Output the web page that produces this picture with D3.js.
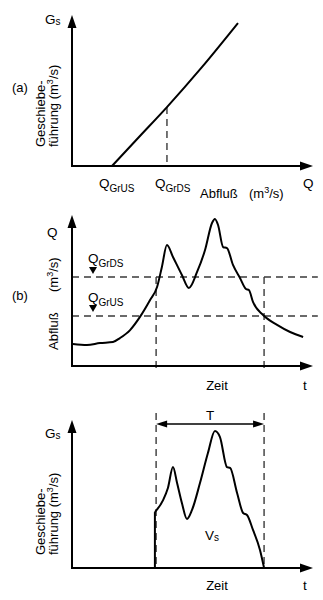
<!DOCTYPE html>
<html><head><meta charset="utf-8">
<script src="https://cdn.jsdelivr.net/npm/d3@7"></script>
<style>body{margin:0;background:#fff}svg{display:block;font-family:"Liberation Sans",Arial,sans-serif}</style>
</head><body><svg id="c" width="323" height="600"></svg>
<script>
// ---- data (normalized units 0..100 along each axis) ----
// (a) bedload transport vs discharge
const curveA_Q  = [16.6, 28, 39.4, 54, 68.9];
const curveA_Gs = [0, 19.5, 39, 65.6, 94.7];
const qGrUS_a = 16.6, qGrDS_a = 39.4, gsAtDS = 39;
// (b) hydrograph
const timeB = [0.4,6.2,11.6,17.0,19.9,24.1,28.2,32.4,35.3,37.3,39.4,41.9,45.6,48.5,51.9,55.2,58.1,59.3,60.6,62.7,64.3,66.8,69.7,72.2,73.4,75.1,79.3,85.1,90.5,95.9];
const flowB = [14.6,13.9,15.2,15.9,18.5,23.8,32.5,43.7,52.3,65.6,80.1,72.2,60.3,51.7,62.3,76.8,94.7,97.4,93.4,78.8,78.1,66.9,58.3,51.0,50.3,42.4,33.8,27.2,22.5,19.2];
const qGrDS_b = 58.9, qGrUS_b = 33.1;
const tStart = 34.9, tEnd = 79.7;
// (c) bedload hydrograph
const timeC = [34.4,37.8,39.8,41.9,43.6,45.6,47.7,49.8,53.1,56.4,59.3,61.4,64.3,65.6,68.5,71.0,72.6,75.1,78.0,79.7];
const gsC   = [37.8,45.9,54.1,68.2,57.4,43.9,33.1,39.2,57.4,77.7,92.6,88.5,68.2,67.6,50.7,37.2,35.8,25.7,12.2,0];

const svg = d3.select("#c");
const DASH = "7,5", DCOL = "#3a3a3a";

function arrowHead(g, x, y, dir){
  let p;
  if(dir==='up') p=[[x,y],[x-4.5,y+13],[x+4.5,y+13]];
  else if(dir==='right') p=[[x,y],[x-13,y-4.5],[x-13,y+4.5]];
  else p=[[x,y],[x+11,y-3.5],[x+11,y+3.5]];
  g.append("path").attr("d","M"+p.map(d=>d.join(",")).join("L")+"Z").attr("fill","#000");
}
function axes(g, x0, y0, xTip, yTip){
  g.append("line").attr("x1",x0).attr("y1",y0).attr("x2",x0).attr("y2",yTip+8).attr("stroke","#000").attr("stroke-width",2);
  g.append("line").attr("x1",x0-1).attr("y1",y0).attr("x2",xTip-8).attr("y2",y0).attr("stroke","#000").attr("stroke-width",2);
  arrowHead(g,x0,yTip,'up'); arrowHead(g,xTip,y0,'right');
}
function txt(x,y,s,size,anchor){
  return svg.append("text").attr("x",x).attr("y",y).attr("font-size",size||13).attr("text-anchor",anchor||"start").text(s);
}
function unit(t){ // appends "(m³/s)" to a text element
  t.append("tspan").text("(m");
  t.append("tspan").attr("font-size",9).attr("dy",-5).text("3");
  t.append("tspan").attr("dy",5).text("/s)");
}
function qsub(x,y,sub){
  const t = svg.append("text").attr("x",x).attr("y",y).attr("font-size",13.5);
  t.append("tspan").text("Q");
  t.append("tspan").attr("font-size",10).attr("dy",4).text(sub);
  return t;
}
function rot(x,y,pre,withUnit){
  const t = svg.append("text").attr("transform",`translate(${x},${y}) rotate(-90)`).attr("font-size",13);
  if(pre) t.append("tspan").text(pre);
  if(withUnit) unit(t);
  return t;
}
function gs(x,y,main,sub){
  const t = svg.append("text").attr("x",x).attr("y",y).attr("font-size",13.5);
  t.append("tspan").text(main);
  t.append("tspan").attr("font-size",10).attr("dy",1).text(sub);
}

// ===== Panel (a) =====
const xa = d3.scaleLinear().domain([0,100]).range([72,313]);
const ya = d3.scaleLinear().domain([0,100]).range([166,15]);
const ga = svg.append("g");
ga.append("line").attr("x1",xa(qGrDS_a)).attr("x2",xa(qGrDS_a)).attr("y1",ya(gsAtDS)).attr("y2",ya(0))
  .attr("stroke",DCOL).attr("stroke-width",1.4).attr("stroke-dasharray",DASH);
ga.append("path").datum(curveA_Q.map((q,i)=>[q,curveA_Gs[i]]))
  .attr("d",d3.line().x(d=>xa(d[0])).y(d=>ya(d[1])).curve(d3.curveMonotoneX))
  .attr("fill","none").attr("stroke","#000").attr("stroke-width",2);
axes(ga,72,166,313,15);
gs(45,24,"G","s");
txt(12,92,"(a)",13);
rot(45,147,"Geschiebe-",false);
rot(58,147,"führung ",true);
qsub(xa(qGrUS_a)-13,188,"GrUS");
qsub(xa(qGrDS_a)-12,188,"GrDS");
txt(200,198,"Abfluß",13);
unit(txt(249,198,"",13));
txt(303,188,"Q",13.5);

// ===== Panel (b) =====
const xb = d3.scaleLinear().domain([0,100]).range([72,313]);
const yb = d3.scaleLinear().domain([0,100]).range([366,215]);
const gb = svg.append("g");
[qGrDS_b,qGrUS_b].forEach(v=>gb.append("line").attr("x1",xb(0)).attr("x2",xb(102)).attr("y1",yb(v)).attr("y2",yb(v))
  .attr("stroke",DCOL).attr("stroke-width",1.4).attr("stroke-dasharray",DASH));
[tStart,tEnd].forEach(v=>gb.append("line").attr("x1",xb(v)).attr("x2",xb(v)).attr("y1",yb(qGrDS_b)).attr("y2",yb(-4.6))
  .attr("stroke",DCOL).attr("stroke-width",1.4).attr("stroke-dasharray",DASH));
gb.append("path").datum(timeB.map((t,i)=>[t,flowB[i]]))
  .attr("d",d3.line().x(d=>xb(d[0])).y(d=>yb(d[1])).curve(d3.curveMonotoneX))
  .attr("fill","none").attr("stroke","#000").attr("stroke-width",2);
axes(gb,72,366,313,215);
txt(47,237,"Q",13.5);
txt(12,300,"(b)",13);
rot(58,292,"",true);
rot(58,350,"Abfluß",false);
qsub(88,263,"GrDS");
gb.append("path").attr("d",`M89,267L97,267L93,274Z`).attr("fill","#000");
qsub(88,302,"GrUS");
gb.append("path").attr("d",`M89,305L97,305L93,312Z`).attr("fill","#000");
txt(217,390,"Zeit",13,"middle");
txt(305,390,"t",13.5,"middle");

// ===== Panel (c) =====
const xc = d3.scaleLinear().domain([0,100]).range([72,313]);
const yc = d3.scaleLinear().domain([0,100]).range([568,420]);
const gc = svg.append("g");
[tStart,tEnd].forEach(v=>gc.append("line").attr("x1",xc(v)).attr("x2",xc(v)).attr("y1",413).attr("y2",yc(0))
  .attr("stroke",DCOL).attr("stroke-width",1.4).attr("stroke-dasharray",DASH));
gc.append("line").attr("x1",xc(tStart)+6).attr("x2",xc(tEnd)-6).attr("y1",424).attr("y2",424).attr("stroke","#000").attr("stroke-width",1.4);
arrowHead(gc,xc(tStart),424,'left');
gc.append("path").attr("d",`M${xc(tEnd)},424L${xc(tEnd)-11},420.5L${xc(tEnd)-11},427.5Z`).attr("fill","#000");
txt((xc(tStart)+xc(tEnd))/2,420,"T",13.5,"middle");
gc.append("line").attr("x1",xc(timeC[0])).attr("x2",xc(timeC[0])).attr("y1",yc(0)).attr("y2",yc(gsC[0]))
  .attr("stroke","#000").attr("stroke-width",2);
gc.append("path").datum(timeC.map((t,i)=>[t,gsC[i]]))
  .attr("d",d3.line().x(d=>xc(d[0])).y(d=>yc(d[1])).curve(d3.curveMonotoneX))
  .attr("fill","none").attr("stroke","#000").attr("stroke-width",2);
axes(gc,72,568,313,420);
gs(45,438,"G","s");
rot(45,555,"Geschiebe-",false);
rot(58,555,"führung ",true);
gs(205,540,"V","s");
txt(217,590,"Zeit",13,"middle");
txt(305,590,"t",13.5,"middle");
</script></body></html>
